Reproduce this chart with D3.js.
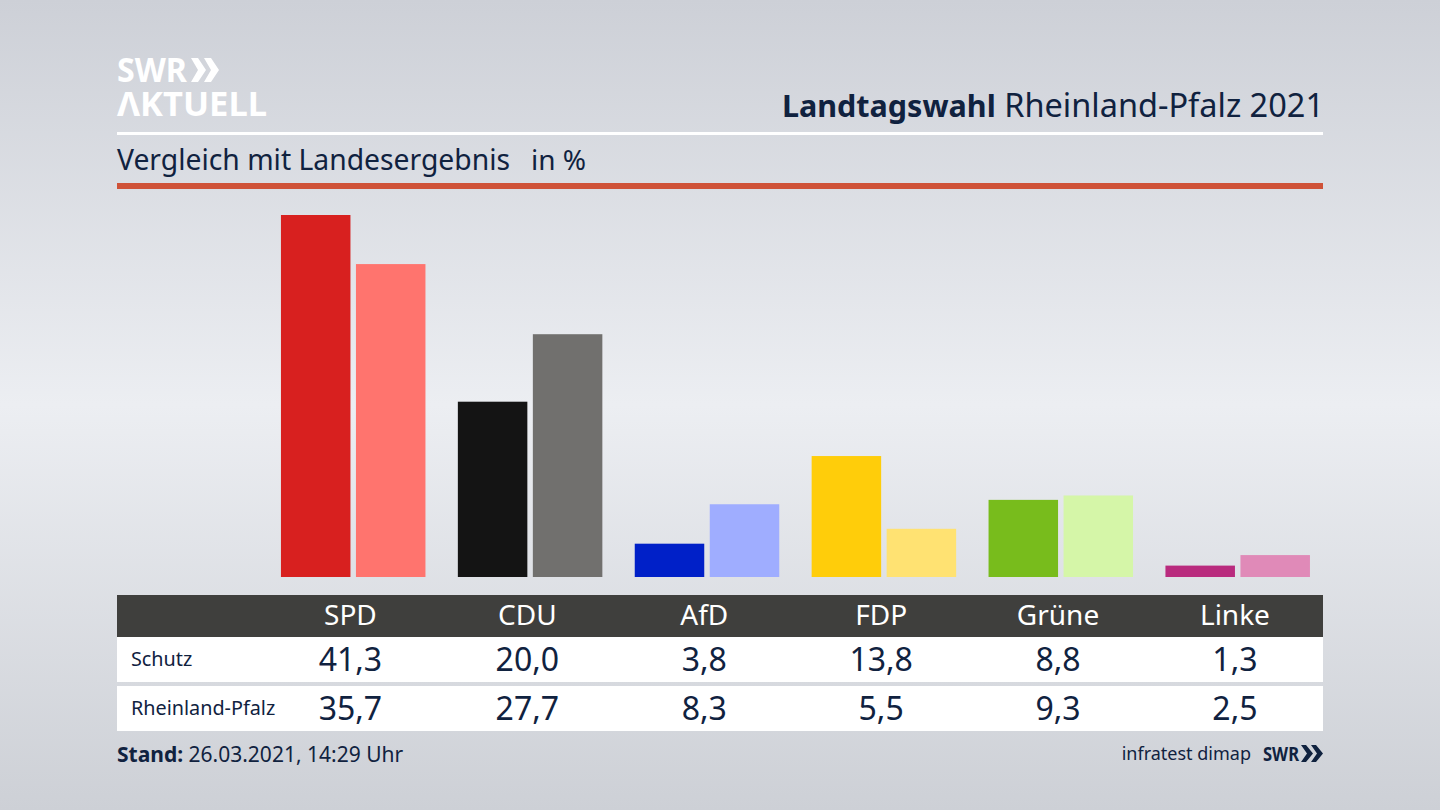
<!DOCTYPE html>
<html>
<head>
<meta charset="utf-8">
<title>Landtagswahl Rheinland-Pfalz 2021</title>
<script src="https://cdn.jsdelivr.net/npm/d3@7"></script>
<style>
  html, body { margin: 0; padding: 0; background: #d5d8de; }
  svg { display: block; }
  text { font-family: "Noto Sans", sans-serif; fill: #10223f; }
</style>
</head>
<body>
<div id="chart"></div>
<script>
var parties = ['SPD', 'CDU', 'AfD', 'FDP', 'Grüne', 'Linke'];
var rowNames = ['Schutz', 'Rheinland-Pfalz'];
var schutz = [41.3, 20.0, 3.8, 13.8, 8.8, 1.3];
var landesweit = [35.7, 27.7, 8.3, 5.5, 9.3, 2.5];
var colorsSchutz = ['#d8201f', '#141414', '#0020c8', '#ffcd0a', '#78bc1c', '#b92b7e'];
var colorsLand = ['#ff746e', '#71706e', '#9fadff', '#ffe272', '#d5f6a8', '#e08ab8'];

var width = 1440, height = 810;
var fmt = function(v) { return v.toFixed(1).replace('.', ','); };

var svg = d3.select('#chart').append('svg')
    .attr('width', width)
    .attr('height', height);

var grad = svg.append('defs').append('linearGradient')
    .attr('id', 'bg')
    .attr('x1', 0).attr('y1', 0).attr('x2', 0).attr('y2', 1);
grad.append('stop').attr('offset', '0%').attr('stop-color', '#cdd0d7');
grad.append('stop').attr('offset', '50%').attr('stop-color', '#eceef2');
grad.append('stop').attr('offset', '100%').attr('stop-color', '#cdd0d6');

svg.append('rect')
    .attr('width', width).attr('height', height)
    .attr('fill', 'url(#bg)');

// scales
var x = d3.scaleBand().domain(parties).range([262, 1323.4]);
var y = d3.scaleLinear().domain([0, 41.3]).range([577, 215]);
var center = function(p) { return x(p) + x.bandwidth() / 2; };
var barW = 69.5;

// head
var logo = svg.append('g').attr('fill', '#fff');
logo.append('text')
    .attr('x', 117).attr('y', 82)
    .attr('font-size', 34).attr('font-weight', 700)
    .style('fill', '#fff').attr('textLength', 70)
    .attr('lengthAdjust', 'spacingAndGlyphs')
    .text('SWR');
logo.append('text')
    .attr('x', 117).attr('y', 116)
    .attr('font-size', 34).attr('font-weight', 700)
    .style('fill', '#fff').attr('textLength', 150)
    .attr('lengthAdjust', 'spacingAndGlyphs')
    .text('ΛKTUELL');
var chevron = d3.line();
[191, 204].forEach(function(cx) {
    logo.append('path')
        .attr('d', chevron([[cx, 58], [cx + 7, 58], [cx + 15, 70], [cx + 7, 82], [cx, 82], [cx + 7, 70]]) + 'Z');
});

var title = svg.append('text')
    .attr('x', 1324).attr('y', 117)
    .attr('text-anchor', 'end')
    .attr('font-size', 32.5);
title.append('tspan').attr('font-weight', 700).attr('font-size', 30.5).text('Landtagswahl');
title.append('tspan').text(' Rheinland-Pfalz 2021');

svg.append('rect').attr('x', 117).attr('y', 132).attr('width', 1206).attr('height', 3).attr('fill', '#fff');
svg.append('text')
    .attr('x', 117).attr('y', 170)
    .attr('font-size', 28.3)
    .text('Vergleich mit Landesergebnis');
svg.append('text')
    .attr('x', 531).attr('y', 170)
    .attr('font-size', 28)
    .text('in %');
svg.append('rect').attr('x', 117).attr('y', 183).attr('width', 1206).attr('height', 6).attr('fill', '#cf5238');

// bars
svg.append('g').selectAll('rect')
    .data(schutz).enter()
    .append('rect')
    .attr('x', function(d, i) { return center(parties[i]) - barW; })
    .attr('y', function(d) { return y(d); })
    .attr('width', barW)
    .attr('height', function(d) { return y(0) - y(d); })
    .attr('fill', function(d, i) { return colorsSchutz[i]; });

svg.append('g').selectAll('rect')
    .data(landesweit).enter()
    .append('rect')
    .attr('x', function(d, i) { return center(parties[i]) + 5.5; })
    .attr('y', function(d) { return y(d); })
    .attr('width', barW)
    .attr('height', function(d) { return y(0) - y(d); })
    .attr('fill', function(d, i) { return colorsLand[i]; });

// table
svg.append('rect').attr('x', 117).attr('y', 595).attr('width', 1206).attr('height', 42).attr('fill', '#3f3f3d');
svg.append('rect').attr('x', 117).attr('y', 637).attr('width', 1206).attr('height', 45).attr('fill', '#fff');
svg.append('rect').attr('x', 117).attr('y', 686).attr('width', 1206).attr('height', 45).attr('fill', '#fff');

svg.append('g').selectAll('text')
    .data(parties).enter()
    .append('text')
    .attr('x', center)
    .attr('y', 625)
    .attr('text-anchor', 'middle')
    .attr('font-size', 28)
    .style('fill', '#fff')
    .text(function(d) { return d; });

[schutz, landesweit].forEach(function(row, r) {
    var rowY = 671 + r * 49;
    svg.append('text')
        .attr('x', 131).attr('y', rowY - 5)
        .attr('font-size', 19.8)
        .text(rowNames[r]);
    svg.append('g').selectAll('text')
        .data(row).enter()
        .append('text')
        .attr('x', function(d, i) { return center(parties[i]); })
        .attr('y', rowY)
        .attr('text-anchor', 'middle')
        .attr('font-size', 32)
        .text(fmt);
});

// foot
var stand = svg.append('text')
    .attr('x', 117).attr('y', 762)
    .attr('font-size', 21);
stand.append('tspan').attr('font-weight', 700).text('Stand:');
stand.append('tspan').text(' 26.03.2021, 14:29 Uhr');

svg.append('text')
    .attr('x', 1251).attr('y', 760)
    .attr('text-anchor', 'end')
    .attr('font-size', 18)
    .text('infratest dimap');
svg.append('text')
    .attr('x', 1263).attr('y', 761)
    .attr('font-size', 20).attr('font-weight', 700)
    .attr('textLength', 36)
    .attr('lengthAdjust', 'spacingAndGlyphs')
    .text('SWR');
[1301, 1311].forEach(function(cx) {
    svg.append('path')
        .attr('fill', '#10223f')
        .attr('d', chevron([[cx, 745], [cx + 5, 745], [cx + 12, 753.5], [cx + 5, 762], [cx, 762], [cx + 6, 753.5]]) + 'Z');
});
</script>
</body>
</html>
